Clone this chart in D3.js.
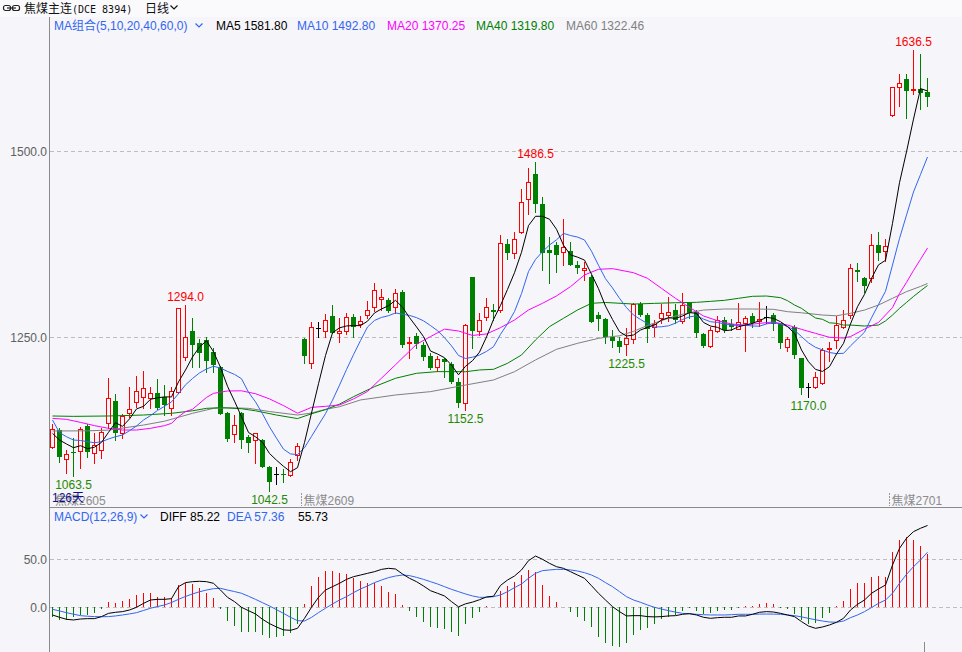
<!DOCTYPE html>
<html><head><meta charset="utf-8">
<script src="https://cdn.jsdelivr.net/npm/d3@7/dist/d3.min.js"></script>
<style>
html,body{margin:0;padding:0;background:#f5f5fa;}
svg{display:block;font-family:"Liberation Sans","Noto Sans CJK SC",sans-serif;font-size:12px;}
</style></head><body>
<svg id="chart" width="962" height="652"></svg>
<script>
// ---------- DATA ----------
const opens=[1102.7,1125.1,1085.6,1095.5,1096.8,1131.0,1093.7,1098.2,1135.0,1164.2,
1120.6,1148.5,1162.4,1169.1,1167.8,1174.5,1170.0,1155.2,1176.8,1223.9,
1258.5,1241.9,1246.3,1229.7,1209.5,1148.0,1119.3,1148.5,1116.1,1111.6,
1111.6,1075.7,1065.8,1066.3,1064.5,1091.5,1247.7,1215.0,1262.1,1259.0,
1278.7,1255.4,1259.0,1276.9,1267.5,1279.6,1290.4,1301.2,1300.3,1291.3,
1311.5,1241.9,1251.8,1239.7,1224.8,1209.6,1220.4,1213.6,1189.4,1161.1,
1331.7,1259.0,1277.8,1286.8,1286.8,1375.3,1363.1,1391.4,1435.9,1470.0,
1429.1,1367.6,1374.4,1365.4,1366.3,1347.5,1340.7,1331.7,1280.1,1274.7,
1249.9,1245.4,1241.0,1247.7,1294.8,1280.0,1263.4,1275.5,1280.0,1286.7,
1272.4,1296.6,1284.5,1254.4,1238.2,1258.9,1273.3,1267.9,1261.6,1269.7,
1278.7,1272.4,1277.8,1280.0,1268.8,1236.5,1264.3,1221.6,1182.6,1182.6,
1188.0,1233.8,1246.3,1264.3,1280.0,1340.6,1329.4,1329.4,1374.3,1366.7,
1549.4,1586.7,1597.9,1583.1,1584.4,1580.8];
const highs=[1132.7,1127.4,1098.2,1113.9,1129.6,1132.7,1120.6,1127.4,1195.6,1173.6,
1146.7,1183.5,1197.8,1204.6,1182.6,1193.8,1185.7,1183.5,1289.0,1294.0,
1275.5,1247.2,1249.9,1235.1,1211.3,1149.8,1145.3,1149.8,1118.4,1121.5,
1112.5,1076.6,1074.8,1072.1,1085.6,1107.0,1248.6,1271.1,1271.1,1281.0,
1293.6,1275.6,1282.3,1281.0,1278.7,1298.9,1323.6,1314.6,1302.5,1315.1,
1313.7,1250.9,1255.4,1244.2,1228.4,1224.8,1221.7,1217.2,1194.8,1267.5,
1331.7,1282.3,1303.4,1294.5,1387.8,1382.0,1392.3,1449.3,1478.5,1486.5,
1439.5,1385.6,1378.9,1409.0,1378.9,1353.3,1351.9,1334.0,1284.6,1275.6,
1259.8,1250.8,1262.0,1296.6,1298.0,1282.3,1273.3,1294.8,1304.7,1294.8,
1310.1,1298.0,1286.7,1255.3,1264.3,1278.7,1276.9,1274.2,1296.6,1278.7,
1282.3,1298.0,1292.1,1282.3,1269.7,1250.8,1266.5,1222.5,1188.9,1203.7,
1235.1,1244.1,1278.7,1286.7,1348.3,1350.5,1331.6,1389.1,1392.3,1381.9,
1587.6,1604.2,1604.2,1636.5,1631.6,1598.8];
const lows=[1100.4,1082.5,1066.7,1063.5,1073.5,1089.2,1081.1,1087.0,1127.4,1111.6,
1113.9,1143.1,1156.5,1154.3,1154.3,1152.9,1145.3,1145.3,1174.5,1219.4,
1210.4,1210.4,1203.7,1203.7,1146.7,1110.7,1109.4,1100.4,1095.9,1080.2,
1074.8,1042.5,1052.4,1055.5,1063.2,1085.0,1215.9,1209.1,1250.9,1250.9,
1255.4,1243.3,1254.5,1250.9,1263.5,1275.6,1285.9,1286.8,1284.6,1283.2,
1236.5,1221.7,1235.2,1219.5,1206.9,1204.6,1196.1,1188.0,1156.6,1152.5,
1235.2,1253.1,1273.3,1273.3,1284.6,1355.1,1356.4,1391.0,1416.1,1419.3,
1340.7,1322.7,1338.5,1347.5,1347.5,1336.2,1327.2,1271.1,1259.9,1241.9,
1236.4,1230.6,1225.5,1242.7,1278.7,1244.1,1251.7,1269.7,1272.4,1268.8,
1268.8,1275.5,1249.9,1236.4,1237.3,1257.6,1257.6,1259.8,1260.7,1232.0,
1264.3,1265.2,1268.8,1259.8,1235.1,1232.0,1221.6,1173.6,1170.0,1181.2,
1187.1,1218.5,1235.1,1262.0,1275.5,1326.3,1311.4,1324.9,1354.1,1353.2,
1548.1,1561.5,1545.8,1577.2,1557.5,1561.5];
const closes=[1126.0,1089.2,1092.8,1094.6,1126.0,1095.9,1104.9,1122.0,1167.8,1120.6,
1144.4,1152.9,1177.7,1181.2,1175.4,1155.2,1158.8,1177.7,1289.0,1249.9,
1239.6,1229.3,1218.5,1212.7,1146.7,1112.5,1131.8,1111.6,1108.0,1120.6,
1075.7,1055.5,1065.8,1064.5,1082.5,1103.6,1225.3,1263.5,1262.1,1272.9,
1256.3,1258.5,1276.9,1264.4,1272.4,1286.4,1313.7,1303.9,1285.9,1309.3,
1239.7,1243.7,1241.0,1224.0,1208.2,1220.4,1217.2,1190.3,1161.1,1266.6,
1259.0,1273.3,1290.4,1284.6,1376.6,1363.1,1382.0,1431.8,1458.8,1429.1,
1363.1,1363.1,1360.9,1371.2,1347.5,1343.0,1343.8,1271.1,1274.7,1250.9,
1245.4,1236.5,1248.6,1294.8,1280.0,1260.7,1267.9,1282.3,1284.5,1273.3,
1293.5,1282.3,1256.2,1238.2,1259.8,1273.3,1259.8,1264.3,1271.0,1275.5,
1268.8,1274.2,1277.8,1267.9,1241.8,1247.2,1226.1,1181.2,1182.6,1197.0,
1232.9,1235.6,1266.5,1273.3,1342.9,1337.5,1319.1,1374.3,1364.0,1373.4,
1586.7,1593.0,1582.2,1584.4,1578.6,1574.1];

const ma5=[1120.6,1111.6,1106.3,1101.3,1104.0,1100.0,1102.0,1108.5,1122.0,1135.0,
1130.0,1140.0,1153.5,1157.0,1166.5,1168.5,1169.7,1169.7,1190.0,1205.9,
1223.5,1237.0,1245.2,1230.5,1209.5,1184.0,1164.0,1143.0,1121.8,1116.0,
1108.5,1093.5,1084.5,1076.2,1069.0,1074.4,1108.3,1148.0,1187.4,1225.5,
1256.0,1262.7,1265.3,1265.8,1265.7,1271.7,1282.8,1288.2,1292.5,1299.8,
1290.5,1276.5,1264.0,1251.0,1231.5,1227.5,1222.5,1212.5,1199.5,1211.0,
1218.5,1230.0,1250.5,1274.0,1293.0,1314.5,1337.0,1364.5,1400.5,1413.0,
1413.0,1409.0,1395.5,1374.0,1361.0,1358.0,1354.0,1335.0,1315.5,1292.0,
1274.0,1257.5,1251.7,1253.1,1259.8,1263.4,1266.5,1273.3,1276.4,1275.5,
1278.7,1283.2,1282.3,1270.0,1265.2,1263.4,1258.9,1259.8,1264.3,1266.5,
1268.8,1272.4,1276.9,1275.5,1271.0,1264.3,1255.3,1232.9,1217.1,1206.8,
1204.0,1210.4,1227.5,1241.8,1268.0,1291.2,1307.9,1329.4,1347.6,1353.7,
1403.5,1458.3,1499.9,1543.9,1585.0,1581.8];
const ma10=[1138.6,1121.5,1116.1,1111.6,1111.0,1109.4,1108.0,1109.4,1113.0,1116.1,
1118.4,1124.2,1130.5,1138.6,1144.5,1151.5,1157.0,1163.0,1174.0,1186.0,
1194.5,1202.0,1207.3,1211.0,1208.5,1204.0,1200.0,1194.2,1176.0,1163.0,
1147.0,1129.4,1114.1,1099.3,1092.9,1092.0,1101.3,1116.5,1131.9,1147.1,
1165.2,1185.5,1206.6,1226.6,1245.6,1263.9,1272.7,1276.8,1279.1,1282.8,
1281.1,1279.5,1276.5,1272.2,1265.8,1259.0,1249.5,1238.5,1225.5,1221.5,
1223.2,1226.1,1231.0,1237.3,1254.0,1268.2,1284.7,1308.9,1338.6,1354.9,
1365.3,1374.3,1381.3,1390.0,1387.1,1385.0,1381.1,1366.0,1347.0,1328.9,
1316.5,1302.5,1290.0,1280.0,1274.0,1268.5,1263.8,1264.2,1265.5,1269.0,
1274.0,1277.5,1279.0,1274.5,1271.0,1270.0,1268.0,1266.5,1265.8,1266.3,
1265.2,1265.0,1268.0,1269.5,1268.0,1264.5,1259.5,1251.0,1242.5,1236.5,
1233.0,1229.5,1228.0,1228.4,1238.5,1247.6,1256.9,1276.2,1294.3,1312.0,
1347.3,1383.1,1414.6,1445.8,1469.3,1492.8];
// [candle index, value]
const ma20=[[0,1140.8],[2,1139.5],[4,1135.4],[6,1131],[8,1127.4],[10,1125.1],[12,1125.1],[14,1127.4],[16,1131],[17,1134.1],
[18,1143.1],[19,1150],[20,1153],[22,1169],[23,1174.5],[25,1177.7],[27,1177.9],[29,1174],[31,1167],[33,1158],[35,1147.7],
[37,1155.6],[39,1157],[41,1158.8],[43,1167],[45,1177],[47,1195],[49,1213],[52,1240.5],[54,1251],[56,1261],[58,1258.5],
[60,1252.5],[62,1254.5],[64,1263],[66,1273.3],[68,1286.8],[70,1295.8],[72,1305.7],[74,1318.2],[76,1334],[78,1341.6],
[80,1342.5],[83,1337],[85,1329.4],[87,1315.9],[89,1302.5],[91,1290.3],[93,1278.7],[95,1272.4],[97,1267.9],[99,1266.5],
[101,1268.8],[103,1270.6],[105,1266.5],[107,1260.7],[109,1255.3],[111,1250],[113,1249],[114,1251],[116,1261],
[118,1270],[119,1280],[120,1290],[121,1309],[122,1324],[123,1340],[124,1355],[125,1370.25]];
const ma40=[[0,1144],[3,1143.5],[8,1144],[13,1145.3],[17,1147.6],[20,1151],[22,1154.3],[24,1155.2],[27,1153.8],[29,1151],
[32,1145.3],[35,1140.5],[37,1147],[39,1152.6],[41,1160],[43,1170],[46,1183.5],[49,1194.8],[52,1201.5],[55,1203.8],
[59,1203.6],[61,1206],[63,1206.9],[65,1215],[67,1226.2],[69,1246.4],[71,1264.4],[73,1275.6],[75,1286.8],[77,1295.8],
[79,1296.9],[83,1294.8],[86,1295.7],[89,1296.6],[92,1297.1],[94,1298.4],[96,1299.8],[98,1302.5],[100,1305.2],[102,1305.6],
[104,1303.4],[105,1299.3],[106,1293.5],[107,1289],[108,1282.3],[109,1276],[110,1274.2],[111,1269.5],[112,1268.8],
[113,1266.5],[114,1266.5],[116,1265.2],[118,1266.5],[119,1272],[120,1280],[121,1289],[122,1297],[123,1305],[124,1312.5],[125,1319.8]];
const ma60=[[0,1123.8],[5,1124],[8,1125],[13,1131.8],[16,1137],[20,1147.6],[23,1154.3],[25,1155.2],[28,1154.3],[31,1150],
[35,1145.3],[37,1148],[39,1153],[41,1156.5],[44,1165.6],[49,1172.3],[54,1176.8],[59,1185.7],[63,1192.5],[66,1203.7],
[69,1219.5],[72,1233.8],[75,1241.9],[78,1248.6],[79,1250],[81,1252],[83,1258],[85,1266],[87,1272.5],[89,1278.7],
[91,1283.2],[93,1286.7],[96,1288.1],[100,1288.1],[103,1287.7],[105,1284.5],[107,1283],[110,1280],[112,1279],
[114,1282.3],[116,1286.7],[118,1293.5],[120,1302.5],[122,1311.5],[124,1318.5],[125,1322.46]];

const diff=[-8.0,-10.4,-12.5,-13.2,-12.2,-11.8,-11.8,-9.7,-6.3,-5.2,
-4.5,-2.8,0,4.1,7.6,8.3,8.3,9.0,21.5,25.7,
26.7,27.1,26.7,25.0,18.0,10.4,5.9,0,-3.5,-6.9,
-12.5,-17.0,-20.5,-23.5,-24.0,-21.9,-11.5,0,10.4,18.0,
21.5,25.0,29.1,31.9,33.6,35.4,37.1,39.5,40.6,39.9,
34.7,30.2,26.7,22.2,17.3,14.6,11.8,5.9,0.5,3.6,
5.4,7.9,10.8,11.5,22.8,28.4,32.6,38.9,48.6,53.4,
50.0,45.8,42.3,40.6,37.1,33.6,30.2,22.5,14.6,7.6,
0.7,-4.5,-9.0,-8.7,-8.7,-9.7,-10.0,-9.7,-9.0,-8.7,
-7.3,-6.6,-8.0,-10.4,-11.5,-10.8,-10.4,-10.4,-9.0,-9.0,
-7.3,-5.2,-4.5,-4.9,-6.3,-8.0,-9.7,-14.9,-19.5,-21.9,
-20.5,-18.4,-15.6,-11.5,-2.8,3.1,7.6,14.6,19.1,23.2,
44.0,61.4,71.9,78.8,82.3,85.22];
const dea=[-2.1,-3.8,-5.6,-7.2,-8.7,-9.3,-9.7,-9.8,-9.7,-9.0,
-8.0,-6.9,-5.6,-3.3,-1.0,0.8,2.4,5.0,8.3,11.3,
13.9,16.2,18.0,19.4,19.8,18.0,16.4,14.6,11.5,8.3,
4.8,1.4,-2.5,-6.3,-10.4,-13.9,-14.3,-10.5,-5.5,-1.0,
3.5,7.6,11.1,15.3,19.1,22.2,25.7,28.4,30.9,32.6,
33.6,33.0,31.2,29.1,26.7,24.3,21.5,18.7,16.3,13.9,
11.8,10.4,10.4,11.1,12.8,16.3,20.5,24.3,30.2,35.4,
38.2,38.9,39.5,39.5,38.9,37.8,36.1,33.6,30.2,25.7,
21.5,16.3,11.1,7.6,5.2,2.4,0,-1.8,-3.5,-5.0,
-6.3,-6.8,-7.3,-7.7,-8.0,-8.0,-8.0,-7.7,-7.3,-7.3,
-7.3,-7.1,-7.0,-7.1,-7.3,-8.0,-8.7,-10.0,-11.5,-13.0,
-14.3,-15.3,-15.6,-14.3,-10.8,-8.0,-4.5,-0.3,4.1,7.6,
14.6,25.0,34.3,42.3,49.3,57.36];
const macd=[-10.4,-13.2,-13.2,-10.4,-8.0,-8.0,-5.6,-1.7,5.9,4.9,
6.9,8.7,12.8,15.3,15.3,11.1,10.4,9.4,23.3,25.0,
24.3,19.8,15.3,9.4,-1.4,-13.9,-19.1,-25.3,-26.0,-26.0,
-28.8,-32.3,-31.2,-29.5,-27.1,-17.4,3.5,22.6,31.9,38.2,
37.8,36.1,34.7,30.9,27.4,25.0,25.7,22.2,16.3,13.9,
2.4,-3.5,-9.7,-14.9,-20.1,-21.9,-22.6,-25.3,-29.5,-17.7,
-10.8,-4.5,1.4,0.3,17.3,22.2,26.0,33.6,38.9,36.8,
23.3,12.1,5.9,0.7,-4.5,-9.7,-13.9,-20.8,-30.6,-36.8,
-39.9,-41.0,-37.5,-28.8,-23.6,-21.2,-17.7,-12.5,-9.7,-8.0,
-3.8,-1.0,-3.8,-6.9,-5.6,-3.8,-2.8,-2.8,-1.0,1.0,
1.0,3.5,4.5,3.5,-0.7,-1.7,-6.9,-13.2,-17.7,-16.7,
-10.8,-6.2,1.7,6.6,19.1,25.0,25.0,31.9,32.6,31.2,
57.3,70.1,73.6,70.1,63.9,55.73];

const priceTicks=[1250,1500];
const macdTicks=[0,50];
const extremes=[{i:19,v:1294.0,hi:true},{i:69,v:1486.5,hi:true},{i:123,v:1636.5,hi:true},
 {i:3,v:1063.5,hi:false},{i:31,v:1042.5,hi:false},{i:59,v:1152.5,hi:false},{i:82,v:1225.5,hi:false},{i:108,v:1170.0,hi:false}];
const contracts=[{i:0,name:"焦煤2605"},{i:36,name:"焦煤2609"},{i:120,name:"焦煤2701"}];
const maLegend=[{t:"MA5 1581.80",c:"#000000",x:216},{t:"MA10 1492.80",c:"#3366ee",x:297},{t:"MA20 1370.25",c:"#ff00ff",x:387},
 {t:"MA40 1319.80",c:"#008000",x:476},{t:"MA60 1322.46",c:"#808080",x:566}];
const macdLegend=[{t:"DIFF 85.22",c:"#000000",x:160},{t:"DEA 57.36",c:"#3366ee",x:227},{t:"55.73",c:"#000000",x:298}];

// ---------- DRAW ----------
const BG="#f5f5fa", RED="#ff0000", GRN="#008000", BLUE="#3366ee";
const svg=d3.select("#chart");
svg.append("rect").attr("width",962).attr("height",652).attr("fill",BG);
svg.append("rect").attr("width",962).attr("height",17).attr("fill","#fafafc");

const x=d3.scaleLinear().domain([0,125]).range([52.5,927.5]);
const y=d3.scaleLinear().domain([1250,1500]).range([337.3,151.7]);
const ym=d3.scaleLinear().domain([0,50]).range([607.3,559.3]);
const r5=v=>Math.round(v-0.5)+0.5;

const defs=svg.append("defs");
defs.append("clipPath").attr("id","cp").append("rect").attr("x",50).attr("y",34).attr("width",912).attr("height",472);
defs.append("clipPath").attr("id","cm").append("rect").attr("x",50).attr("y",524).attr("width",912).attr("height",128);

// grid lines
svg.append("g").selectAll("line").data(priceTicks).join("line")
 .attr("x1",50).attr("x2",962).attr("y1",d=>r5(y(d))).attr("y2",d=>r5(y(d)))
 .attr("stroke","#bdbdbd").attr("stroke-dasharray","4,3");
svg.append("g").selectAll("line").data(macdTicks).join("line")
 .attr("x1",50).attr("x2",962).attr("y1",d=>r5(ym(d))).attr("y2",d=>r5(ym(d)))
 .attr("stroke","#bdbdbd").attr("stroke-dasharray","4,3");

// axes (labels only)
const ax=svg.append("g").attr("transform","translate(48,0)")
 .call(d3.axisLeft(y).tickValues(priceTicks).tickSize(0).tickPadding(1).tickFormat(d3.format(".1f")));
const axm=svg.append("g").attr("transform","translate(48,0)")
 .call(d3.axisLeft(ym).tickValues(macdTicks).tickSize(0).tickPadding(1).tickFormat(d3.format(".1f")));
[ax,axm].forEach(a=>{a.select(".domain").remove();a.selectAll("text").attr("fill","#606060")
 .attr("font-family",'"Liberation Sans",sans-serif').attr("font-size",12);});

// frame lines
svg.append("line").attr("x1",49.5).attr("x2",49.5).attr("y1",17).attr("y2",652).attr("stroke","#8a8a8a");
svg.append("line").attr("x1",50).attr("x2",962).attr("y1",507.5).attr("y2",507.5).attr("stroke","#8a8a8a");

// candles
const gc=svg.append("g").attr("clip-path","url(#cp)").attr("shape-rendering","crispEdges");
const idx=d3.range(closes.length);
idx.forEach(i=>{
  const o=opens[i],c=closes[i],cx=x(i);
  const yh=Math.round(y(highs[i])),yl=Math.round(y(lows[i]));
  const yo=Math.round(y(o)),yc=Math.round(y(c));
  if(c>o){
    const top=yc,bot=yo;
    gc.append("line").attr("x1",cx).attr("x2",cx).attr("y1",yh).attr("y2",top).attr("stroke",RED);
    gc.append("line").attr("x1",cx).attr("x2",cx).attr("y1",bot).attr("y2",yl+1).attr("stroke",RED);
    gc.append("rect").attr("x",cx-2).attr("y",top+0.5).attr("width",4).attr("height",Math.max(bot-top,1))
      .attr("fill",BG).attr("stroke",RED);
  } else if(c<o){
    gc.append("line").attr("x1",cx).attr("x2",cx).attr("y1",yh).attr("y2",yl+1).attr("stroke",GRN);
    gc.append("rect").attr("x",cx-2.5).attr("y",yo).attr("width",5).attr("height",Math.max(yc-yo,1)).attr("fill",GRN);
  } else {
    gc.append("line").attr("x1",cx).attr("x2",cx).attr("y1",yh).attr("y2",yl+1).attr("stroke","#000");
    gc.append("line").attr("x1",cx-2.5).attr("x2",cx+2.5).attr("y1",yo+0.5).attr("y2",yo+0.5).attr("stroke","#000");
  }
});

// moving averages
const gl=svg.append("g").attr("clip-path","url(#cp)").attr("fill","none").attr("stroke-width",1);
const lineP=d3.line().x(d=>x(d[0])).y(d=>y(d[1]));
const series=[
 {d:ma60,c:"#808080"},{d:ma40,c:GRN},{d:ma20,c:"#ff00ff"},
 {d:ma10.map((v,i)=>[i,v]),c:BLUE},{d:ma5.map((v,i)=>[i,v]),c:"#000000"}];
series.forEach(s=>gl.append("path").attr("d",lineP(s.d)).attr("stroke",s.c));

// extreme labels
svg.append("g").selectAll("text").data(extremes).join("text")
 .attr("x",d=>x(d.i)).attr("y",d=>d.hi?y(d.v)-4:y(d.v)+13)
 .attr("text-anchor","middle").attr("fill",d=>d.hi?RED:"#1f8a00").text(d=>d.v.toFixed(1));

// contract labels at the bottom of the price panel
const gk=svg.append("g");
contracts.forEach((k,j)=>{
  const xx=x(k.i)-(j===0?0:3);
  if(j>0) gk.append("line").attr("x1",Math.round(xx)-0.5).attr("x2",Math.round(xx)-0.5).attr("y1",493).attr("y2",506)
     .attr("stroke","#999").attr("stroke-dasharray","2,1");
  gk.append("text").attr("x",j===0?55:xx+2).attr("y",505).attr("fill","#8c8c8c").text(k.name);
});
gk.append("text").attr("x",52).attr("y",502).attr("fill","#10108a").text("126天");

// MACD histogram
const gm=svg.append("g").attr("clip-path","url(#cm)").attr("shape-rendering","crispEdges");
gm.selectAll("line").data(idx).join("line")
 .attr("x1",i=>x(i)).attr("x2",i=>x(i))
 .attr("y1",Math.round(ym(0))).attr("y2",i=>Math.round(ym(macd[i])))
 .attr("stroke",i=>macd[i]>=0?RED:GRN);
const lineM=d3.line().x((d,i)=>x(i)).y(d=>ym(d));
const gml=svg.append("g").attr("clip-path","url(#cm)").attr("fill","none");
gml.append("path").attr("d",lineM(dea)).attr("stroke",BLUE);
gml.append("path").attr("d",lineM(diff)).attr("stroke","#000");
svg.append("line").attr("x1",924.5).attr("x2",924.5).attr("y1",642).attr("y2",652).attr("stroke","#8a8a8a");

// headers
const chev=(x0,y0,c)=>svg.append("path").attr("d",`M${x0},${y0} l3.5,3.5 l3.5,-3.5`).attr("fill","none").attr("stroke",c).attr("stroke-width",1.2);
// title row
const ic=svg.append("g").attr("fill","none").attr("stroke","#222").attr("stroke-width",1.2);
ic.append("rect").attr("x",3.5).attr("y",5.5).attr("width",7).attr("height",5).attr("rx",2);
ic.append("rect").attr("x",12.5).attr("y",5.5).attr("width",7).attr("height",5).attr("rx",2);
ic.append("line").attr("x1",7).attr("x2",16).attr("y1",8).attr("y2",8);
svg.append("text").attr("x",24).attr("y",13).attr("fill","#111").attr("font-family",'"Noto Sans CJK SC",sans-serif').text("焦煤主连");
svg.append("text").attr("x",72).attr("y",13).attr("fill","#111").attr("font-family",'"DejaVu Sans Mono",monospace').attr("font-size",10).text("(DCE 8394)");
svg.append("text").attr("x",145).attr("y",13).attr("fill","#111").attr("font-family",'"Noto Sans CJK SC",sans-serif').text("日线");
chev(170.5,5.5,"#111");
// MA legend row
svg.append("text").attr("x",54).attr("y",30).attr("fill",BLUE).text("MA组合(5,10,20,40,60,0)");
chev(195.5,23.5,BLUE);
svg.selectAll(".mal").data(maLegend).join("text").attr("class","mal")
 .attr("x",d=>d.x).attr("y",30).attr("fill",d=>d.c).text(d=>d.t);
// MACD legend row
svg.append("text").attr("x",54).attr("y",521).attr("fill",BLUE).text("MACD(12,26,9)");
chev(140.5,514.5,BLUE);
svg.selectAll(".mdl").data(macdLegend).join("text").attr("class","mdl")
 .attr("x",d=>d.x).attr("y",521).attr("fill",d=>d.c).text(d=>d.t);
</script></body></html>
